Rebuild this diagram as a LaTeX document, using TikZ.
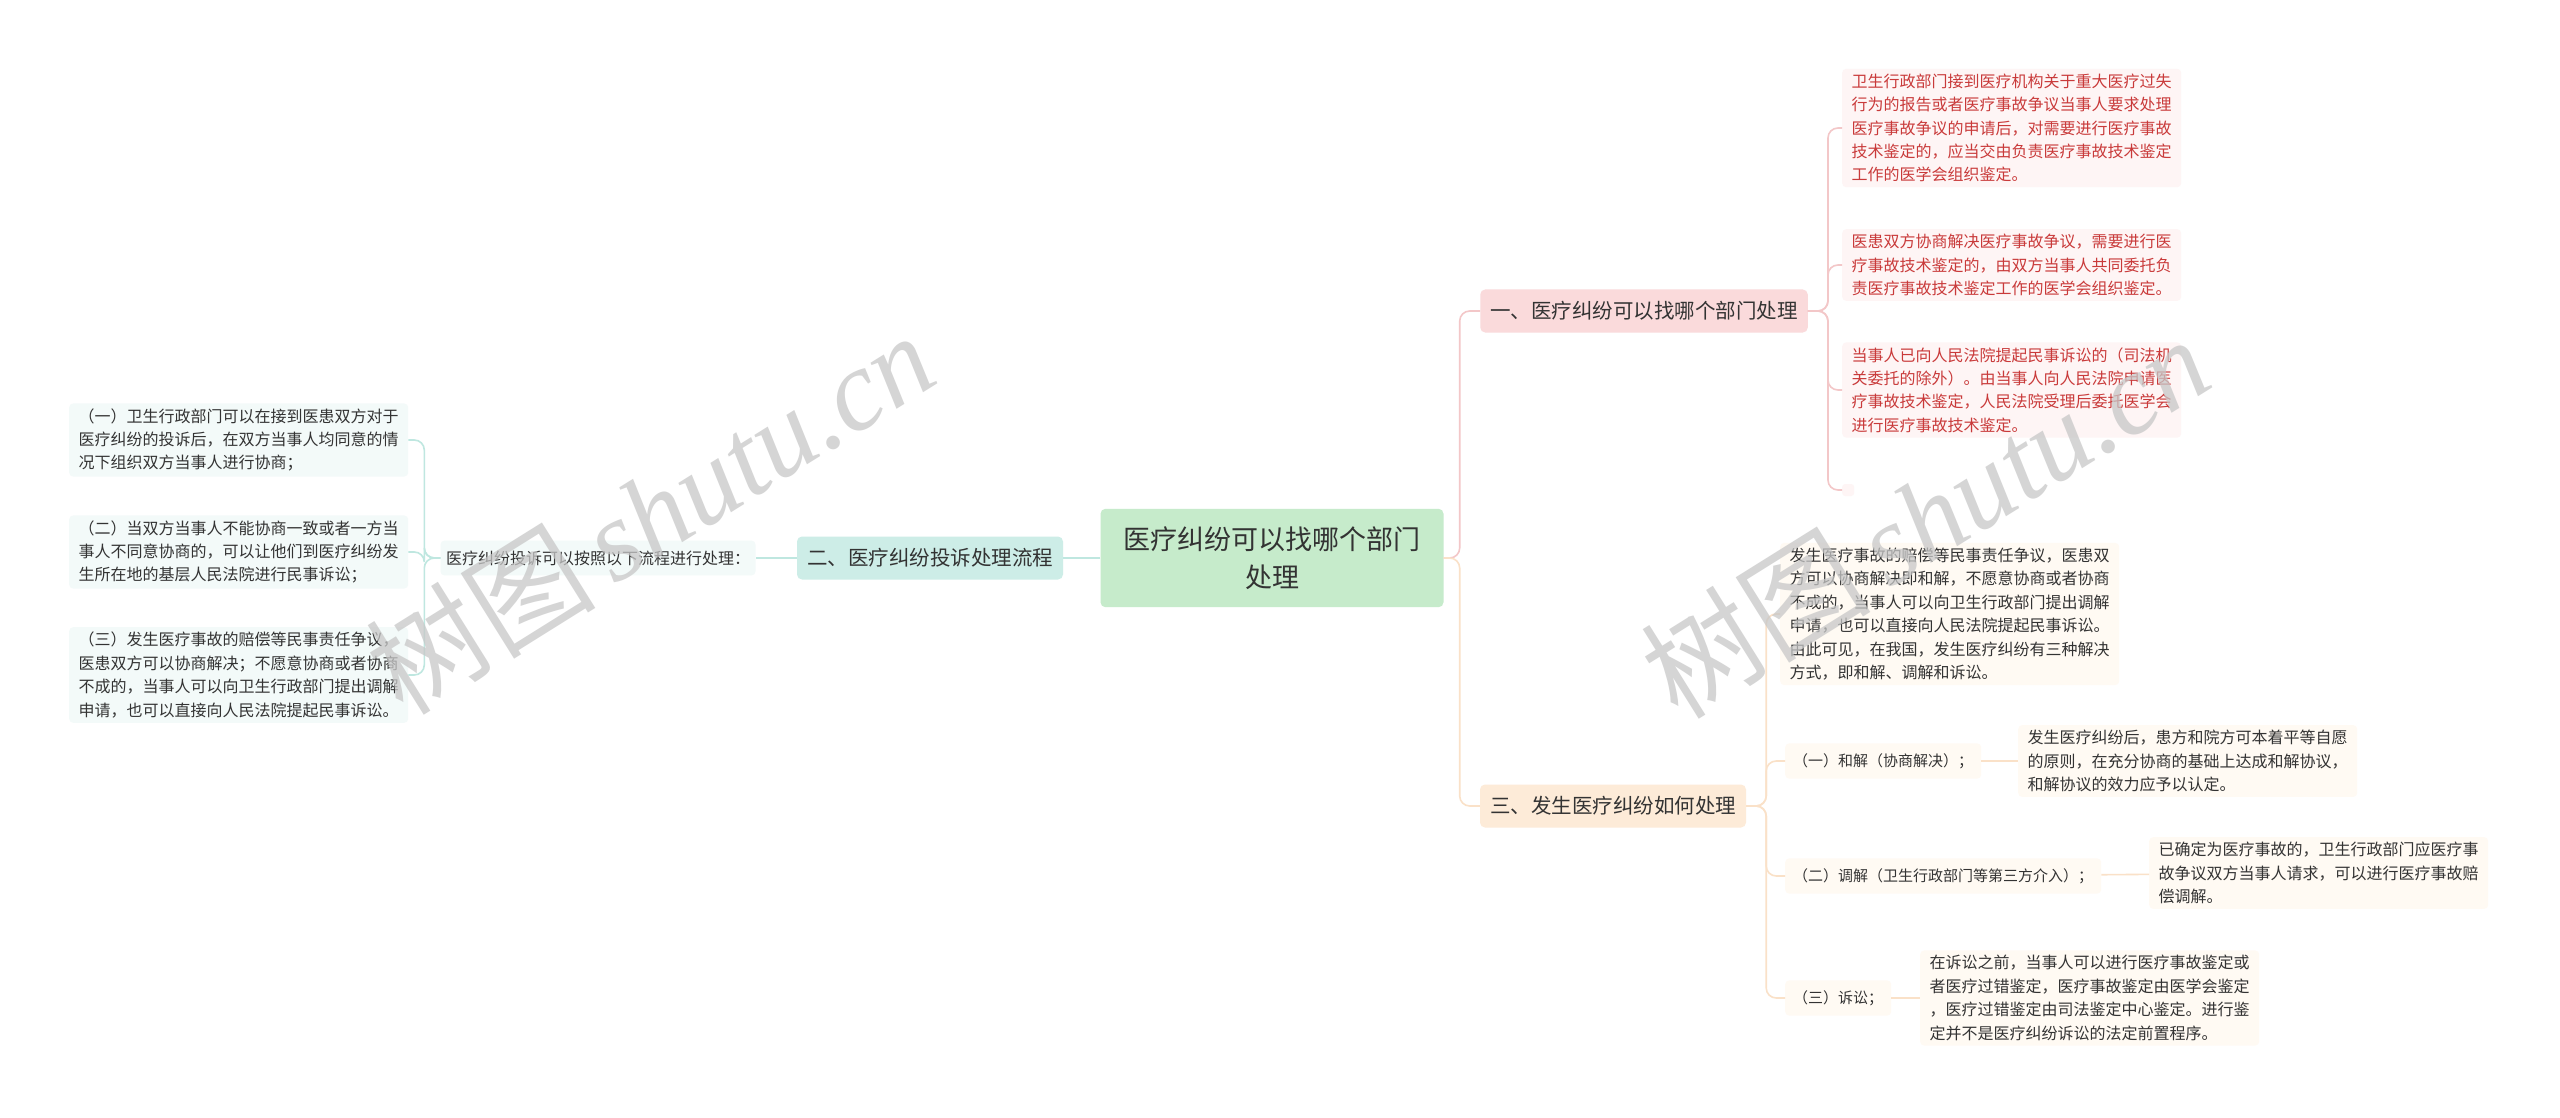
\documentclass[tikz,border=0pt]{standalone}
\usepackage{fontspec}
\setmainfont{Noto Sans CJK SC}
\newfontfamily\wmfont{Liberation Serif}
\definecolor{rootfill}{HTML}{C6EBCB}
\definecolor{pinkfill}{HTML}{FADADB}
\definecolor{pinkline}{HTML}{F3C7C8}
\definecolor{pinkleaf}{HTML}{FEF5F5}
\definecolor{redtext}{HTML}{C93A3A}
\definecolor{orangefill}{HTML}{FDEBD8}
\definecolor{orangeline}{HTML}{FAE1C8}
\definecolor{orangeleaf}{HTML}{FFFAF3}
\definecolor{tealfill}{HTML}{CDEDE7}
\definecolor{tealline}{HTML}{BFE7E0}
\definecolor{tealleaf}{HTML}{F3FAF9}
\definecolor{inktext}{HTML}{333333}
\begin{document}
\begin{tikzpicture}[x=1pt,y=-1pt]
\tikzstyle{rootbox}=[rounded corners=5pt,fill=rootfill,text=inktext,align=center,inner xsep=23pt,inner ysep=18pt,font=\fontsize{27}{37.5}\selectfont]
\tikzstyle{branchbox}=[rounded corners=5pt,text=inktext,inner xsep=10pt,inner ysep=12pt,font=\fontsize{20.5}{24}\selectfont]
\tikzstyle{subbox}=[rounded corners=4pt,text=inktext,inner xsep=8pt,inner ysep=10pt,font=\fontsize{15}{18}\selectfont]
\tikzstyle{leafbox}=[rounded corners=4pt,text=inktext,align=left,inner xsep=9.5pt,inner ysep=5pt,font=\fontsize{16}{23.4}\selectfont]
\tikzstyle{conn}=[draw,line width=1.6pt,rounded corners=10pt]
\tikzstyle{wmark}=[rotate=32,text=black!22,opacity=0.75,font=\fontsize{115}{120}\selectfont]
\fill[white] (0,0) rectangle (2560,1117);
\useasboundingbox (0,0) rectangle (2560,1117);
% centre
\node[rootbox] (root) at (1272,558) {医疗纠纷可以找哪个部门\\处理};
% branch one
\node[branchbox,fill=pinkfill] (b1) at (1644,311) {一、医疗纠纷可以找哪个部门处理};
\node[leafbox,fill=pinkleaf,text=redtext,anchor=west] (b1l1) at (1842,128) {卫生行政部门接到医疗机构关于重大医疗过失\\行为的报告或者医疗事故争议当事人要求处理\\医疗事故争议的申请后，对需要进行医疗事故\\技术鉴定的，应当交由负责医疗事故技术鉴定\\工作的医学会组织鉴定。};
\node[leafbox,fill=pinkleaf,text=redtext,anchor=west] (b1l2) at (1842,265) {医患双方协商解决医疗事故争议，需要进行医\\疗事故技术鉴定的，由双方当事人共同委托负\\责医疗事故技术鉴定工作的医学会组织鉴定。};
\node[leafbox,fill=pinkleaf,text=redtext,anchor=west] (b1l3) at (1842,390) {当事人已向人民法院提起民事诉讼的（司法机\\关委托的除外）。由当事人向人民法院申请医\\疗事故技术鉴定，人民法院受理后委托医学会\\进行医疗事故技术鉴定。};
\node[fill=pinkleaf,rounded corners=3pt,minimum size=12pt,inner sep=0pt,anchor=west] (b1l4) at (1842,490) {};
% branch three
\node[branchbox,fill=orangefill] (b3) at (1613,806) {三、发生医疗纠纷如何处理};
\node[leafbox,fill=orangeleaf,anchor=west] (b3l0) at (1780,614) {发生医疗事故的赔偿等民事责任争议，医患双\\方可以协商解决即和解，不愿意协商或者协商\\不成的，当事人可以向卫生行政部门提出调解\\申请，也可以直接向人民法院提起民事诉讼。\\由此可见，在我国，发生医疗纠纷有三种解决\\方式，即和解、调解和诉讼。};
\node[subbox,fill=orangeleaf,anchor=west] (s1) at (1785,761) {（一）和解（协商解决）；};
\node[leafbox,fill=orangeleaf,anchor=west] (c1) at (2018,761) {发生医疗纠纷后，患方和院方可本着平等自愿\\的原则，在充分协商的基础上达成和解协议，\\和解协议的效力应予以认定。};
\node[subbox,fill=orangeleaf,anchor=west] (s2) at (1785,876) {（二）调解（卫生行政部门等第三方介入）；};
\node[leafbox,fill=orangeleaf,anchor=west] (c2) at (2149,873) {已确定为医疗事故的，卫生行政部门应医疗事\\故争议双方当事人请求，可以进行医疗事故赔\\偿调解。};
\node[subbox,fill=orangeleaf,anchor=west] (s3) at (1785,998) {（三）诉讼；};
\node[leafbox,fill=orangeleaf,anchor=west] (c3) at (1920,998) {在诉讼之前，当事人可以进行医疗事故鉴定或\\者医疗过错鉴定，医疗事故鉴定由医学会鉴定\\，医疗过错鉴定由司法鉴定中心鉴定。进行鉴\\定并不是医疗纠纷诉讼的法定前置程序。};
% branch two
\node[branchbox,fill=tealfill] (b2) at (930,558) {二、医疗纠纷投诉处理流程};
\node[subbox,fill=tealleaf,font=\fontsize{16}{19}\selectfont,inner xsep=5.5pt] (b2s) at (598,558) {医疗纠纷投诉可以按照以下流程进行处理：};
\node[leafbox,fill=tealleaf,anchor=west] (b2l1) at (69,440) {（一）卫生行政部门可以在接到医患双方对于\\医疗纠纷的投诉后，在双方当事人均同意的情\\况下组织双方当事人进行协商；};
\node[leafbox,fill=tealleaf,anchor=west] (b2l2) at (69,552) {（二）当双方当事人不能协商一致或者一方当\\事人不同意协商的，可以让他们到医疗纠纷发\\生所在地的基层人民法院进行民事诉讼；};
\node[leafbox,fill=tealleaf,anchor=west] (b2l3) at (69,675) {（三）发生医疗事故的赔偿等民事责任争议，\\医患双方可以协商解决；不愿意协商或者协商\\不成的，当事人可以向卫生行政部门提出调解\\申请，也可以直接向人民法院提起民事诉讼。};
% connectors
\path[conn,pinkline] (root.east) -- ++(16,0) |- (b1.west);
\path[conn,orangeline] (root.east) -- ++(16,0) |- (b3.west);
\foreach \n in {b1l1,b1l2,b1l3,b1l4}
  \path[conn,pinkline] (b1.east) -- ++(20,0) |- (\n.west);
\foreach \n in {b3l0,s1,s2,s3}
  \path[conn,orangeline] (b3.east) -- ++(20,0) |- (\n.west);
\path[conn,orangeline] (s1) -- (c1);
\path[conn,orangeline] (s2) -- (c2);
\path[conn,orangeline] (s3) -- (c3);
\path[conn,tealline] (root) -- (b2);
\path[conn,tealline] (b2) -- (b2s);
\foreach \n in {b2l1,b2l2,b2l3}
  \path[conn,tealline] (b2s.west) -- ++(-16,0) |- (\n.east);
% watermark
\node[wmark] (wm1) at (650,512) {树图\,{\wmfont\itshape shutu.cn}};
\node[wmark] (wm2) at (1925,516) {树图\,{\wmfont\itshape shutu.cn}};
\end{tikzpicture}
\end{document}
